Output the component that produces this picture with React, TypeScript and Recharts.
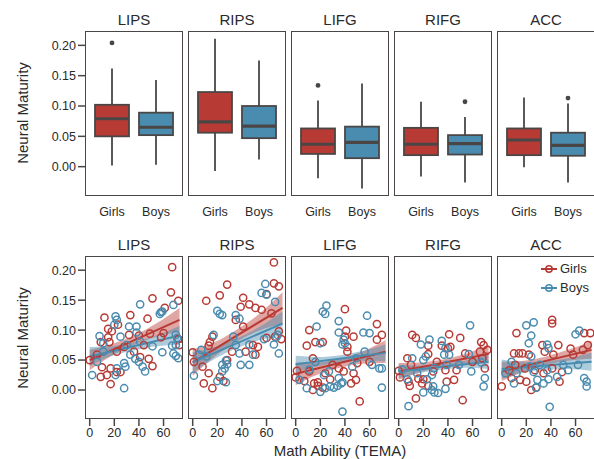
import React from "react";
import { ComposedChart, Bar, Scatter, Line, Area, XAxis, YAxis, Legend } from "recharts";

// ---------------------------------------------------------------------------
// Neural maturity by sex (box plots) and vs. math ability (scatter + fit)
// ---------------------------------------------------------------------------

const REGIONS = ["LIPS", "RIPS", "LIFG", "RIFG", "ACC"];
const GROUPS = ["Girls", "Boys"];
const Y_TICKS = [0, 0.05, 0.1, 0.15, 0.2];
const X_TICKS = [0, 20, 40, 60];

// box stats per region: [low whisker, q1, median, q3, high whisker]
const GIRLS_BOX = [
  [0.002, 0.05, 0.079, 0.102, 0.162],
  [-0.007, 0.056, 0.074, 0.123, 0.211],
  [-0.019, 0.021, 0.037, 0.063, 0.109],
  [-0.016, 0.019, 0.037, 0.064, 0.107],
  [-0.001, 0.019, 0.044, 0.063, 0.114],
];
const BOYS_BOX = [
  [0.003, 0.052, 0.065, 0.089, 0.143],
  [0.012, 0.047, 0.067, 0.1, 0.175],
  [-0.036, 0.014, 0.04, 0.066, 0.137],
  [-0.026, 0.02, 0.038, 0.052, 0.082],
  [-0.026, 0.018, 0.035, 0.056, 0.104],
];
const GIRLS_OUTLIERS = [[0.204], [], [0.134], [], []];
const BOYS_OUTLIERS = [[], [], [], [0.107], [0.113]];

// scatter points: [TEMA, neural maturity]
const LIPS_GIRLS = [
  [67, 0.205], [66, 0.163], [51, 0.153], [61, 0.137], [72, 0.149], [12, 0.121], [33, 0.125], [47, 0.119],
  [23, 0.109], [15, 0.102], [18, 0.098], [9, 0.08], [15, 0.088], [16, 0.08], [32, 0.092], [40, 0.091],
  [49, 0.094], [58, 0.088], [72, 0.085], [73, 0.075], [0, 0.05], [10, 0.038], [17, 0.036], [9, 0.022],
  [14, 0.025], [22, 0.03], [25, 0.03], [17, 0.01], [48, 0.052], [51, 0.04], [36, 0.064], [41, 0.055],
  [28, 0.072], [22, 0.064], [6, 0.059], [44, 0.075], [60, 0.095],
];
const LIPS_BOYS = [
  [41, 0.143], [21, 0.123], [22, 0.117], [20, 0.109], [32, 0.106], [38, 0.106], [59, 0.131], [57, 0.127],
  [68, 0.142], [58, 0.13], [8, 0.09], [11, 0.078], [25, 0.089], [38, 0.096], [41, 0.081], [70, 0.092],
  [71, 0.087], [70, 0.075], [67, 0.074], [68, 0.061], [72, 0.053], [70, 0.057], [59, 0.063], [2, 0.025],
  [22, 0.036], [21, 0.025], [28, 0.045], [29, 0.039], [37, 0.052], [40, 0.047], [45, 0.031], [43, 0.039],
  [28, 0.003], [11, 0.064], [33, 0.059], [6, 0.047], [51, 0.073], [30, 0.075],
];
const RIPS_GIRLS = [
  [66, 0.213], [66, 0.178], [70, 0.173], [28, 0.176], [11, 0.149], [22, 0.158], [41, 0.154], [60, 0.16],
  [39, 0.139], [46, 0.143], [51, 0.137], [56, 0.134], [64, 0.128], [41, 0.106], [35, 0.117], [16, 0.089],
  [14, 0.08], [13, 0.074], [0, 0.063], [1, 0.047], [8, 0.039], [13, 0.028], [9, 0.011], [16, 0.003],
  [22, 0.022], [25, 0.015], [28, 0.05], [32, 0.064], [43, 0.064], [49, 0.075], [53, 0.072], [51, 0.059],
  [60, 0.087], [70, 0.098], [67, 0.089], [72, 0.085],
];
const RIPS_BOYS = [
  [59, 0.177], [56, 0.162], [60, 0.159], [20, 0.132], [22, 0.127], [24, 0.125], [35, 0.125], [38, 0.119],
  [67, 0.147], [69, 0.092], [68, 0.088], [70, 0.061], [66, 0.076], [58, 0.085], [17, 0.092], [7, 0.067],
  [5, 0.059], [11, 0.056], [1, 0.024], [24, 0.042], [27, 0.049], [28, 0.043], [38, 0.061], [39, 0.042],
  [46, 0.042], [24, 0.031], [26, 0.036], [20, 0.015], [27, 0.013], [46, 0.076], [35, 0.075], [33, 0.089],
  [49, 0.059],
];
const LIFG_GIRLS = [
  [40, 0.135], [11, 0.1], [41, 0.099], [66, 0.11], [70, 0.092], [47, 0.089], [40, 0.089], [9, 0.074],
  [16, 0.08], [22, 0.08], [14, 0.053], [42, 0.072], [42, 0.064], [66, 0.084], [60, 0.047], [50, 0.045],
  [0, 0.021], [1, 0.032], [7, 0.015], [14, 0.0], [15, 0.011], [18, 0.013], [18, 0.007], [22, 0.004],
  [28, 0.018], [24, 0.028], [35, 0.036], [39, 0.031], [45, 0.011], [47, 0.028], [49, 0.017], [52, -0.019],
  [30, 0.042], [11, 0.031],
];
const LIFG_BOYS = [
  [25, 0.141], [22, 0.131], [24, 0.127], [17, 0.106], [35, 0.115], [58, 0.124], [55, 0.096], [60, 0.095],
  [35, 0.096], [39, 0.084], [40, 0.078], [38, 0.076], [20, 0.078], [68, 0.036], [70, 0.036], [70, 0.004],
  [38, -0.036], [9, 0.003], [20, -0.003], [24, 0.003], [28, 0.006], [31, 0.004], [34, 0.007], [37, 0.011],
  [38, 0.013], [3, 0.017], [11, 0.034], [27, 0.031], [23, 0.025], [35, 0.02], [46, 0.039], [49, 0.053],
  [56, 0.064], [16, 0.047], [62, 0.042],
];
const RIFG_GIRLS = [
  [11, 0.092], [14, 0.087], [41, 0.093], [50, 0.087], [24, 0.074], [35, 0.074], [40, 0.07], [42, 0.072],
  [67, 0.08], [69, 0.075], [72, 0.067], [66, 0.064], [54, 0.061], [0, 0.032], [7, 0.053], [10, 0.042],
  [1, 0.021], [8, 0.014], [9, 0.007], [16, 0.019], [19, 0.011], [20, 0.018], [24, 0.007], [24, 0.06],
  [28, 0.031], [31, 0.047], [38, 0.033], [39, 0.014], [45, 0.017], [47, 0.033], [14, -0.014], [52, -0.017],
  [60, 0.047], [70, 0.036], [68, 0.053],
];
const RIFG_BOYS = [
  [58, 0.108], [25, 0.084], [18, 0.076], [35, 0.082], [38, 0.07], [37, 0.059], [22, 0.056], [20, 0.05],
  [11, 0.053], [3, 0.034], [7, 0.018], [29, 0.037], [27, 0.025], [23, 0.018], [28, 0.006], [27, 0.0],
  [29, -0.004], [32, -0.005], [20, -0.004], [38, 0.002], [8, -0.027], [39, 0.042], [49, 0.042], [59, 0.031],
  [67, 0.046], [70, 0.02], [69, 0.006], [41, 0.059], [15, 0.028], [57, 0.06],
];
const ACC_GIRLS = [
  [41, 0.117], [41, 0.111], [12, 0.095], [67, 0.095], [72, 0.095], [33, 0.075], [46, 0.075], [10, 0.061],
  [14, 0.061], [17, 0.061], [22, 0.059], [35, 0.064], [66, 0.067], [70, 0.075], [56, 0.069], [0, 0.006],
  [8, 0.02], [15, 0.017], [20, 0.014], [24, 0.0], [28, 0.004], [34, 0.028], [41, 0.036], [49, 0.03],
  [47, 0.014], [27, 0.033], [11, 0.042], [42, 0.059], [58, 0.059], [19, 0.036], [6, 0.033],
];
const ACC_BOYS = [
  [20, 0.108], [26, 0.113], [24, 0.091], [22, 0.078], [37, 0.076], [38, 0.07], [60, 0.093], [63, 0.099],
  [24, 0.056], [3, 0.028], [10, 0.011], [23, 0.039], [26, 0.03], [29, 0.017], [28, 0.004], [37, 0.033],
  [38, 0.018], [34, 0.011], [45, 0.022], [39, -0.028], [67, 0.02], [69, 0.014], [69, 0.006], [50, 0.042],
  [12, 0.028], [8, 0.047], [54, 0.033], [31, 0.042], [62, 0.042],
];
const GIRLS_POINTS = [LIPS_GIRLS, RIPS_GIRLS, LIFG_GIRLS, RIFG_GIRLS, ACC_GIRLS];
const BOYS_POINTS = [LIPS_BOYS, RIPS_BOYS, LIFG_BOYS, RIFG_BOYS, ACC_BOYS];

// fitted line, read at FIT_T
const FIT_T = [0, 73];
const GIRLS_FIT = [[0.05, 0.117], [0.046, 0.137], [0.027, 0.064], [0.031, 0.06], [0.031, 0.067]];
const BOYS_FIT = [[0.056, 0.091], [0.046, 0.111], [0.043, 0.062], [0.031, 0.047], [0.035, 0.047]];

// confidence band, read at BAND_T
const BAND_T = [0, 18, 36, 54, 73];
const GIRLS_BAND_LO = [
  [0.033, 0.057, 0.075, 0.089, 0.097],
  [0.024, 0.056, 0.081, 0.099, 0.111],
  [0.008, 0.026, 0.037, 0.044, 0.045],
  [0.017, 0.03, 0.039, 0.044, 0.045],
  [0.015, 0.031, 0.042, 0.049, 0.052],
];
const GIRLS_BAND_HI = [
  [0.067, 0.077, 0.091, 0.111, 0.137],
  [0.068, 0.08, 0.101, 0.127, 0.163],
  [0.046, 0.046, 0.053, 0.064, 0.083],
  [0.045, 0.046, 0.051, 0.06, 0.075],
  [0.047, 0.049, 0.056, 0.067, 0.082],
];
const BOYS_BAND_LO = [
  [0.04, 0.057, 0.066, 0.073, 0.075],
  [0.029, 0.052, 0.07, 0.083, 0.091],
  [0.029, 0.04, 0.046, 0.049, 0.048],
  [0.02, 0.029, 0.034, 0.037, 0.035],
  [0.019, 0.029, 0.034, 0.035, 0.032],
];
const BOYS_BAND_HI = [
  [0.072, 0.073, 0.08, 0.091, 0.107],
  [0.063, 0.072, 0.086, 0.105, 0.131],
  [0.057, 0.055, 0.058, 0.065, 0.076],
  [0.042, 0.041, 0.044, 0.049, 0.059],
  [0.051, 0.047, 0.048, 0.053, 0.062],
];

const RED = "#b83a35";
const BLUE = "#4a8cb0";
const COLORS = [RED, BLUE];
const EDGE = "#4b4646";
const TEXT = "#2a2a2a";
const FONT = "'Liberation Sans', Arial, Helvetica, sans-serif";

const FRAME_LEFT = [86, 189, 292, 395, 498];
const FRAME_W = 96;
const TOP_Y = 32;
const TOP_H = 163;
const BOT_Y = 257;
const BOT_H = 161;
const Y_AXIS_W = 50;
const Y_DOMAIN = [-0.0467, 0.222];
const X_DOMAIN = [-3, 75];

function BoxShape(props: any) {
  const { x, y, width, height, payload } = props;
  const [lo, q1, med, q3, hi] = payload.stats;
  const top = Math.min(y, y + height);
  const h = Math.abs(height);
  const py = (v: number) => top + (h * (hi - v)) / (hi - lo);
  const cx = x + width / 2;
  return (
    <g>
      <line x1={cx} x2={cx} y1={py(hi)} y2={py(lo)} stroke={EDGE} strokeWidth={1.8} />
      <rect
        x={x}
        y={py(q3)}
        width={width}
        height={py(q1) - py(q3)}
        fill={payload.color}
        stroke={EDGE}
        strokeWidth={1.8}
      />
      <line x1={x} x2={x + width} y1={py(med)} y2={py(med)} stroke={EDGE} strokeWidth={3.2} />
      {payload.outliers.map((o: number, i: number) => (
        <circle key={i} cx={cx} cy={py(o)} r={2.4} fill={EDGE} />
      ))}
    </g>
  );
}

const ring = (color: string) => (p: any) => (
  <circle cx={p.cx} cy={p.cy} r={3.6} fill="none" stroke={color} strokeWidth={1.5} />
);

function yAxisFor(first: boolean) {
  return (
    <YAxis
      type="number"
      domain={Y_DOMAIN}
      ticks={Y_TICKS}
      allowDataOverflow
      hide={!first}
      width={first ? Y_AXIS_W : 0}
      axisLine={false}
      tickSize={8}
      tickMargin={2}
      tickLine={{ stroke: EDGE, strokeWidth: 1.5 }}
      tick={{ fill: TEXT, fontSize: 12.5, fontFamily: FONT }}
      tickFormatter={(v: number) => v.toFixed(2)}
      interval={0}
    />
  );
}

function BoxPanel({ idx }: { idx: number }) {
  const first = idx === 0;
  const yW = first ? Y_AXIS_W : 0;
  const data = GROUPS.map((g, i) => ({
    group: g,
    stats: i === 0 ? GIRLS_BOX[idx] : BOYS_BOX[idx],
    outliers: i === 0 ? GIRLS_OUTLIERS[idx] : BOYS_OUTLIERS[idx],
    color: COLORS[i],
  }));
  return (
    <div style={{ position: "absolute", left: FRAME_LEFT[idx] - yW, top: TOP_Y }}>
      <ComposedChart
        width={yW + FRAME_W}
        height={TOP_H + 30}
        data={data}
        margin={{ top: 0, right: 0, bottom: 0, left: 0 }}
      >
        <XAxis
          dataKey="group"
          type="category"
          padding={{ left: 4, right: 4 }}
          axisLine={false}
          tickLine={false}
          tickSize={6}
          tickMargin={6}
          height={30}
          tick={{ fill: TEXT, fontSize: 12.5, fontFamily: FONT }}
          interval={0}
        />
        {yAxisFor(first)}
        <Bar
          dataKey={(d: any) => [d.stats[0], d.stats[4]]}
          barSize={34}
          shape={BoxShape}
          isAnimationActive={false}
        />
      </ComposedChart>
    </div>
  );
}

function ScatterPanel({ idx }: { idx: number }) {
  const first = idx === 0;
  const yW = first ? Y_AXIS_W : 0;
  const pts = [GIRLS_POINTS[idx], BOYS_POINTS[idx]].map((arr) => arr.map(([t, v]) => ({ t, v })));
  const fits = [GIRLS_FIT[idx], BOYS_FIT[idx]].map((f) => FIT_T.map((t, i) => ({ t, fit: f[i] })));
  const bands = [
    [GIRLS_BAND_LO[idx], GIRLS_BAND_HI[idx]],
    [BOYS_BAND_LO[idx], BOYS_BAND_HI[idx]],
  ].map(([lo, hi]) => BAND_T.map((t, i) => ({ t, band: [lo[i], hi[i]] })));
  const last = idx === REGIONS.length - 1;

  return (
    <div style={{ position: "absolute", left: FRAME_LEFT[idx] - yW, top: BOT_Y }}>
      <ComposedChart
        width={yW + FRAME_W}
        height={BOT_H + 30}
        margin={{ top: 0, right: 0, bottom: 0, left: 0 }}
      >
        <XAxis
          type="number"
          dataKey="t"
          domain={X_DOMAIN}
          ticks={X_TICKS}
          allowDataOverflow
          axisLine={false}
          tickSize={8}
          tickMargin={2}
          tickLine={{ stroke: EDGE, strokeWidth: 1.5 }}
          height={30}
          tick={{ fill: TEXT, fontSize: 12.5, fontFamily: FONT }}
          interval={0}
        />
        {yAxisFor(first)}
        {GROUPS.flatMap((g, i) => [
          <Scatter
            key={g + "-pts"}
            name={g}
            data={pts[i]}
            dataKey="v"
            shape={ring(COLORS[i])}
            isAnimationActive={false}
            legendType="none"
          />,
          <Area
            key={g + "-band"}
            data={bands[i]}
            dataKey="band"
            type="monotone"
            stroke="none"
            fill={COLORS[i]}
            fillOpacity={0.45}
            isAnimationActive={false}
            legendType="none"
          />,
          <Line
            key={g + "-fit"}
            data={fits[i]}
            dataKey="fit"
            stroke={COLORS[i]}
            strokeWidth={2}
            dot={false}
            isAnimationActive={false}
            legendType="none"
          />,
        ])}
        {last && (
          <Legend
            layout="horizontal"
            verticalAlign="middle"
            align="center"
            wrapperStyle={{ position: "absolute", left: 42, top: 2, width: "auto", height: "auto" }}
            content={() => (
              <div style={{ display: "flex", flexDirection: "column" }}>
                {GROUPS.map((g, i) => (
                  <div
                    key={g}
                    style={{ display: "flex", alignItems: "center", height: 19, fontSize: 13, color: TEXT, fontFamily: FONT }}
                  >
                    <svg width={18} height={10}>
                      <line x1={1} x2={17} y1={5} y2={5} stroke={COLORS[i]} strokeWidth={2} />
                      <circle cx={9} cy={5} r={3.2} fill="none" stroke={COLORS[i]} strokeWidth={1.5} />
                    </svg>
                    <span style={{ marginLeft: 2 }}>{g}</span>
                  </div>
                ))}
              </div>
            )}
          />
        )}
      </ComposedChart>
    </div>
  );
}

function Frame({ left, top, height, width }: { left: number; top: number; height: number; width: number }) {
  return (
    <div
      style={{
        position: "absolute",
        left: left - 0.75,
        top: top - 0.75,
        width: width + 1.5,
        height: height + 1.5,
        boxSizing: "border-box",
        border: `1.5px solid ${EDGE}`,
        pointerEvents: "none",
      }}
    />
  );
}

function Title({ text, cx, cy }: { text: string; cx: number; cy: number }) {
  return (
    <div
      style={{
        position: "absolute",
        left: cx - 60,
        top: cy - 10,
        width: 120,
        height: 20,
        lineHeight: "20px",
        textAlign: "center",
        fontSize: 15,
        color: TEXT,
      }}
    >
      {text}
    </div>
  );
}

function YLabel({ cy }: { cy: number }) {
  return (
    <div
      style={{
        position: "absolute",
        left: 23 - 70,
        top: cy - 10,
        width: 140,
        height: 20,
        lineHeight: "20px",
        textAlign: "center",
        fontSize: 15,
        color: TEXT,
        transform: "rotate(-90deg)",
      }}
    >
      Neural Maturity
    </div>
  );
}

export default function App() {
  return (
    <div
      style={{
        position: "absolute",
        left: 0,
        top: 0,
        width: 594,
        height: 459,
        overflow: "hidden",
        background: "#fff",
        fontFamily: FONT,
      }}
    >
      {REGIONS.map((r, i) => (
        <React.Fragment key={r}>
          <BoxPanel idx={i} />
          <ScatterPanel idx={i} />
          <Frame left={FRAME_LEFT[i]} top={TOP_Y} width={i === 4 ? FRAME_W + 2 : FRAME_W} height={TOP_H} />
          <Frame left={FRAME_LEFT[i]} top={BOT_Y} width={i === 4 ? FRAME_W + 2 : FRAME_W} height={BOT_H} />
          <Title text={r} cx={FRAME_LEFT[i] + FRAME_W / 2} cy={20} />
          <Title text={r} cx={FRAME_LEFT[i] + FRAME_W / 2} cy={245} />
        </React.Fragment>
      ))}
      <YLabel cy={113} />
      <YLabel cy={338} />
      <div
        style={{
          position: "absolute",
          left: 240,
          top: 441,
          width: 200,
          height: 20,
          lineHeight: "20px",
          textAlign: "center",
          fontSize: 15,
          color: TEXT,
        }}
      >
        Math Ability (TEMA)
      </div>
    </div>
  );
}
